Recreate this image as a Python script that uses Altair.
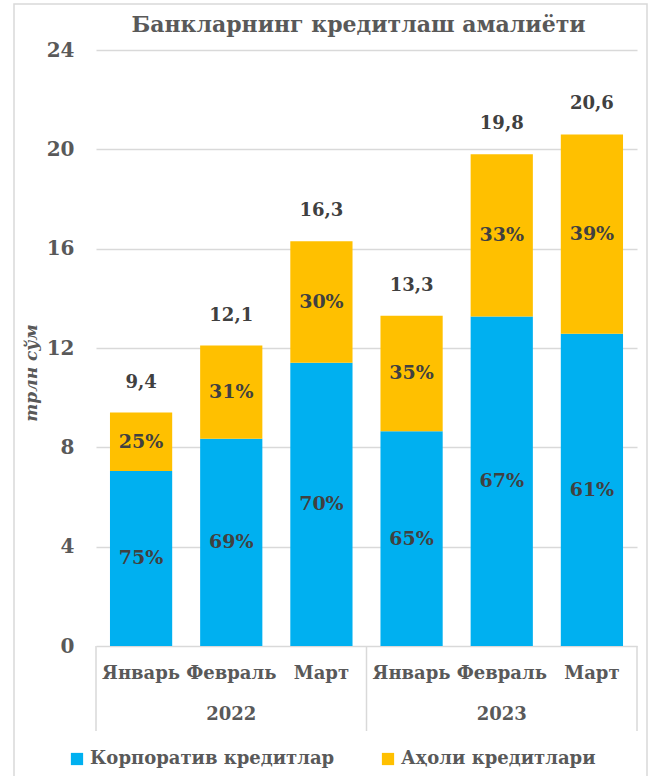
import altair as alt
import pandas as pd

# ---- data ----
years = ["2022", "2022", "2022", "2023", "2023", "2023"]
months = ["Январь", "Февраль", "Март", "Январь", "Февраль", "Март"]
corporate = [7.05, 8.35, 11.41, 8.65, 13.27, 12.57]
household = [2.35, 3.75, 4.89, 4.65, 6.53, 8.03]
corp_pct = ["75%", "69%", "70%", "65%", "67%", "61%"]
hh_pct = ["25%", "31%", "30%", "35%", "33%", "39%"]
totals = [9.4, 12.1, 16.3, 13.3, 19.8, 20.6]
total_labels = ["9,4", "12,1", "16,3", "13,3", "19,8", "20,6"]
series = ["Корпоратив кредитлар", "Аҳоли кредитлари"]
colors = ["#00B0F0", "#FFC000"]
year_names = ["2022", "2023"]
y_ticks = [0, 4, 8, 12, 16, 20, 24]
title_text = "Банкларнинг кредитлаш амалиёти"

keys = [f"{y}-{m}" for y, m in zip(years, months)]

rows = []
for i, k in enumerate(keys):
    rows.append({"key": k, "series": series[0], "order": 0, "value": corporate[i], "pct": corp_pct[i]})
    rows.append({"key": k, "series": series[1], "order": 1, "value": household[i], "pct": hh_pct[i]})
df = pd.DataFrame(rows)
tot = pd.DataFrame({"key": keys, "total": totals, "label": total_labels, "month": months})

W, H = 541, 596
FONT = "DejaVu Serif"
GRAY = "#595959"

xenc = alt.X("key:N", sort=keys, axis=None,
             scale=alt.Scale(paddingInner=0.31, paddingOuter=0.155))
yscale = alt.Scale(domain=[0, 24], nice=False)

bars = alt.Chart(df).mark_bar().encode(
    x=xenc,
    y=alt.Y("value:Q", stack="zero", scale=yscale,
            axis=alt.Axis(values=y_ticks, title=None, grid=True, gridColor="#D9D9D9",
                          gridWidth=1.5, domain=False, ticks=False, labelPadding=22,
                          labelFont=FONT, labelFontSize=20, labelFontWeight="bold",
                          labelColor=GRAY)),
    color=alt.Color("series:N", sort=series,
                    scale=alt.Scale(domain=series, range=colors),
                    legend=alt.Legend(title=None, orient="none", direction="horizontal",
                                      legendX=-28, legendY=700, symbolType="square",
                                      symbolSize=150, symbolStrokeWidth=0,
                                      labelFont=FONT, labelFontSize=18,
                                      labelFontWeight="bold", labelColor=GRAY,
                                      columnPadding=44, labelOffset=4, labelLimit=400)),
    order=alt.Order("order:Q"),
)

pct = alt.Chart(df).transform_stack(
    stack="value", groupby=["key"], as_=["v0", "v1"], sort=[alt.SortField("order")]
).transform_calculate(mid="(datum.v0 + datum.v1) / 2").mark_text(
    font=FONT, fontSize=19, fontWeight="bold", color="#404040"
).encode(x=xenc, y=alt.Y("mid:Q", scale=yscale), text="pct:N")

tot_text = alt.Chart(tot).mark_text(
    font=FONT, fontSize=18, fontWeight="bold", color="#404040", dy=-30
).encode(x=xenc, y=alt.Y("total:Q", scale=yscale), text="label:N")

month_text = alt.Chart(tot).mark_text(
    font=FONT, fontSize=18, fontWeight="bold", color=GRAY
).encode(x=xenc, y=alt.value(H + 28), text="month:N")

yr = pd.DataFrame({"year": year_names, "pos": [W / 4, 3 * W / 4]})
year_text = alt.Chart(yr).mark_text(
    font=FONT, fontSize=18, fontWeight="bold", color=GRAY
).encode(x=alt.X("pos:Q", scale=None), y=alt.value(H + 69), text="year:N")

sep = pd.DataFrame({"p": [0, W / 2, W]})
seps = alt.Chart(sep).mark_rule(color="#D9D9D9", strokeWidth=1.5).encode(
    x=alt.X("p:Q", scale=None), y=alt.value(H), y2=alt.value(H + 85))

border = alt.Chart(pd.DataFrame({"a": [0]})).mark_rect(
    fill=None, stroke="#D9D9D9", strokeWidth=1.5, clip=False
).encode(x=alt.value(-82), x2=alt.value(W + 10), y=alt.value(-46), y2=alt.value(H + 132))

ytitle = alt.Chart(pd.DataFrame({"t": ["трлн сўм"]})).mark_text(
    font=FONT, fontSize=17, fontWeight="bold", fontStyle="italic", color=GRAY, angle=270
).encode(x=alt.value(-64), y=alt.value(H / 2 + 25), text="t:N")

title = alt.Chart(pd.DataFrame({"t": [title_text]})).mark_text(
    font=FONT, fontSize=22, fontWeight="bold", color=GRAY, baseline="middle"
).encode(x=alt.value(W / 2 - 8), y=alt.value(-25), text="t:N")

chart = alt.layer(border, bars, pct, tot_text, month_text, year_text, seps, ytitle, title).properties(
    width=W, height=H,
    autosize=alt.AutoSizeParams(type="none"),
    padding={"left": 96, "top": 50, "right": 15, "bottom": 130},
    background="white",
).configure_view(stroke=None)

chart.save("out.html", embed_options={"renderer": "svg", "actions": False})
